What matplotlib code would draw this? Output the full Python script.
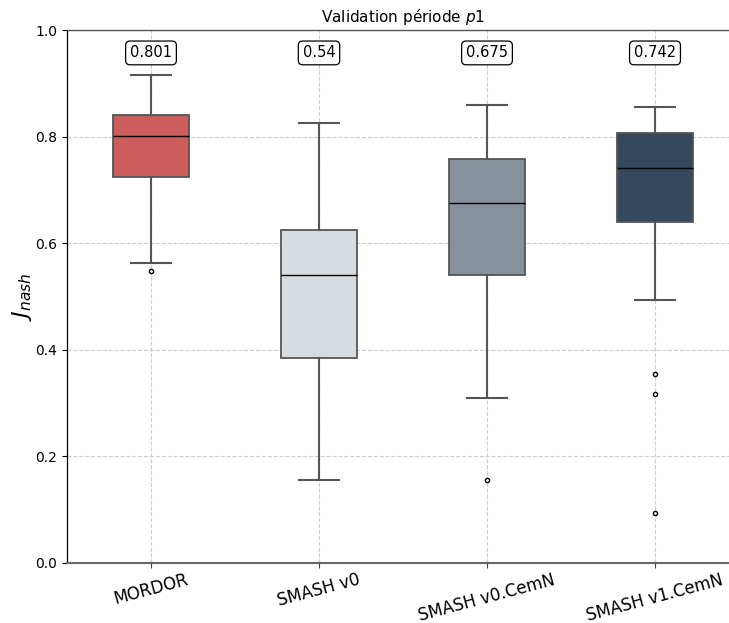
import matplotlib
matplotlib.use("Agg")
import matplotlib.pyplot as plt

categories = ["MORDOR", "SMASH v0", "SMASH v0.CemN", "SMASH v1.CemN"]
whislo = [0.563, 0.156, 0.310, 0.493]
q1 = [0.724, 0.384, 0.540, 0.639]
medians = [0.801, 0.540, 0.675, 0.742]
q3 = [0.840, 0.625, 0.758, 0.806]
whishi = [0.915, 0.826, 0.859, 0.856]
outliers = [[0.547], [], [0.156], [0.355, 0.317, 0.094]]
median_labels = ["0.801", "0.54", "0.675", "0.742"]
colors = ["#cd5c5c", "#d6dbdf", "#85929e", "#34495e"]

W, H = 729, 623
fig = plt.figure(figsize=(W / 100, H / 100), dpi=100)
ax = fig.add_axes([67 / W, 1 - 563 / H, 672 / W, 533 / H])

stats = []
for i, c in enumerate(categories):
    stats.append(dict(label=c, whislo=whislo[i], q1=q1[i], med=medians[i],
                      q3=q3[i], whishi=whishi[i], fliers=outliers[i]))

bp = ax.bxp(stats, positions=range(len(categories)), widths=0.45,
            patch_artist=True, capwidths=0.24,
            boxprops=dict(edgecolor="#555555", linewidth=1.3),
            whiskerprops=dict(color="#555555", linewidth=1.5),
            capprops=dict(color="#555555", linewidth=1.5),
            medianprops=dict(color="black", linewidth=1.0),
            flierprops=dict(marker="o", markersize=3, markerfacecolor="white",
                            markeredgecolor="black", markeredgewidth=1.0))
for patch, col in zip(bp["boxes"], colors):
    patch.set_facecolor(col)
    patch.set_zorder(2)

for i, lab in enumerate(median_labels):
    ax.text(i, 0.957, lab, ha="center", va="center", fontsize=10.5,
            bbox=dict(boxstyle="round,pad=0.3", facecolor="white",
                      edgecolor="black", linewidth=0.9))

ax.set_xlim(-0.5, 3.5)
ax.set_ylim(0, 1.0)
ax.set_yticks([0, 0.2, 0.4, 0.6, 0.8, 1.0])
ax.set_yticklabels(["0.0", "0.2", "0.4", "0.6", "0.8", "1.0"], fontsize=10)
ax.set_xticks(range(len(categories)))
ax.set_xticklabels(categories, rotation=15, fontsize=12)
ax.set_ylabel(r"$J_{nash}$", fontsize=16, labelpad=1)
ax.set_title(r"Validation période $p1$", fontsize=11)
ax.grid(True, linestyle="--", color="#cccccc", linewidth=0.8)
ax.set_axisbelow(True)

ax.spines["left"].set_color("black")
ax.spines["left"].set_linewidth(0.9)
ax.spines["bottom"].set_color("#666666")
ax.spines["bottom"].set_linewidth(1.5)
ax.spines["top"].set_color("#555555")
ax.spines["top"].set_linewidth(1.0)
ax.spines["right"].set_visible(False)
ax.tick_params(axis="both", colors="black")
ax.tick_params(axis="x", color="#444444", pad=2)

fig.savefig("out.png", dpi=100)
